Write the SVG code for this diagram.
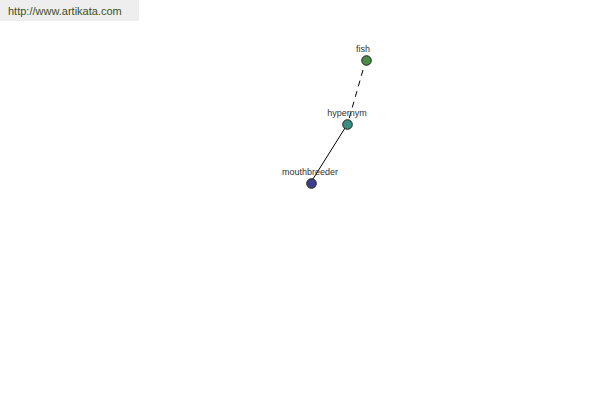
<svg xmlns="http://www.w3.org/2000/svg" width="600" height="400" viewBox="0 0 600 400">
<style>
.lbl{font-family:"Liberation Sans",Arial,sans-serif;font-size:9px;fill:#333;text-anchor:middle}
.node{stroke:#222;stroke-width:1}
.edge{stroke:#000;stroke-width:1;fill:none}
</style>
<rect x="0" y="0" width="600" height="400" fill="#fff"/>
<g id="header">
<rect x="0" y="0" width="139" height="21" fill="#eeeeee"/>
<text x="8" y="15" font-family="'Liberation Sans',Arial,sans-serif" font-size="11" fill="#3d4f1e">http://www.artikata.com</text>
</g>
<g id="connectors">
<line class="edge" x1="363" y1="70" x2="349" y2="119" stroke-dasharray="6,5"/>
<line class="edge" x1="345" y1="128" x2="313" y2="179"/>
</g>
<g id="node-fish">
<circle class="node" cx="366.5" cy="60.5" r="4.8" fill="#4a8a4a"/>
<text class="lbl" x="363" y="52">fish</text>
</g>
<g id="node-hypernym">
<circle class="node" cx="347.5" cy="124.5" r="4.8" fill="#3a8f80"/>
<text class="lbl" x="347" y="116">hypernym</text>
</g>
<g id="node-mouthbreeder">
<circle class="node" cx="311.5" cy="183.5" r="4.8" fill="#3c3d8c"/>
<text class="lbl" x="310" y="175">mouthbreeder</text>
</g>
</svg>
